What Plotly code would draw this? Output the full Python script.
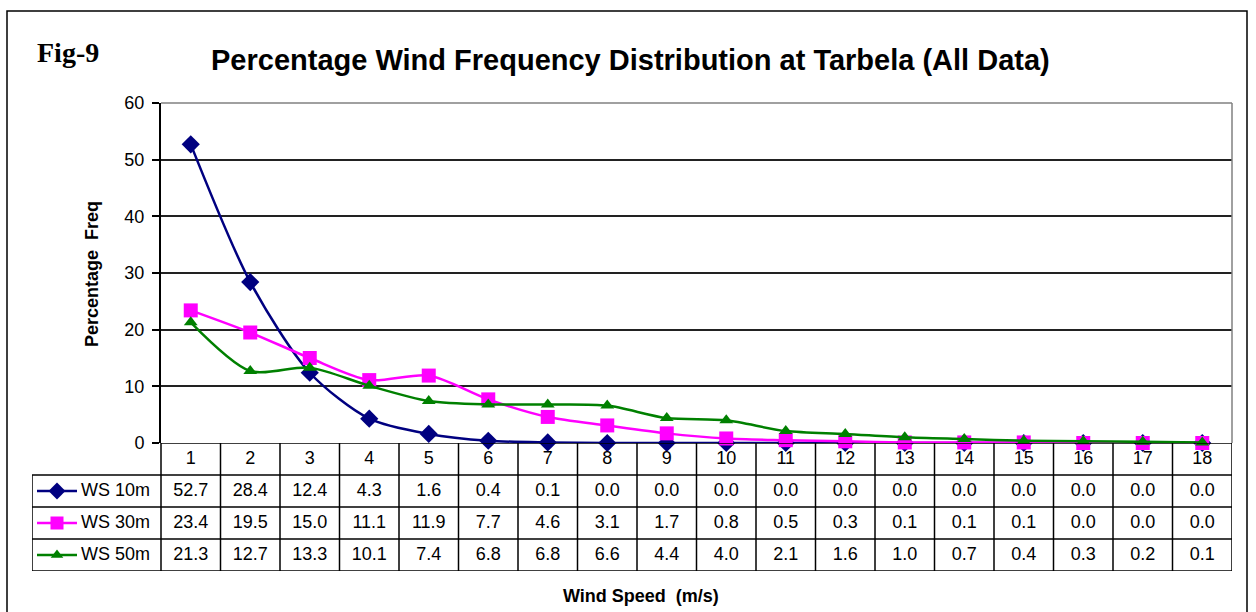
import plotly.graph_objects as go

# ---- data ----
wind_speed = list(range(1, 19))
ws10 = [52.7, 28.4, 12.4, 4.3, 1.6, 0.4, 0.1, 0.0, 0.0, 0.0, 0.0, 0.0, 0.0, 0.0, 0.0, 0.0, 0.0, 0.0]
ws30 = [23.4, 19.5, 15.0, 11.1, 11.9, 7.7, 4.6, 3.1, 1.7, 0.8, 0.5, 0.3, 0.1, 0.1, 0.1, 0.0, 0.0, 0.0]
ws50 = [21.3, 12.7, 13.3, 10.1, 7.4, 6.8, 6.8, 6.6, 4.4, 4.0, 2.1, 1.6, 1.0, 0.7, 0.4, 0.3, 0.2, 0.1]
series_names = ["WS 10m", "WS 30m", "WS 50m"]
y_ticks = [0, 10, 20, 30, 40, 50, 60]

# ---- styling ----
W, H = 1256, 612
PL, PR, PT, PB = 161, 1232, 103, 443   # plot area (px)
TB, LL = 571, 32                        # data-table bottom, legend-column left (px)
cw = (PR - PL) / len(wind_speed)
x_left = 0.5 - (PL - LL) / cw           # legend column left in table-axis units

colors = ["#000080", "#FF00FF", "#008000"]
symbols = ["diamond", "square", "triangle-up"]
msizes = [14, 14, 12]
FONT = "Arial, Liberation Sans, sans-serif"
TXT = 18

series = [ws10, ws30, ws50]

fig = go.Figure()

for name, vals, c, s, ms in zip(series_names, series, colors, symbols, msizes):
    fig.add_trace(go.Scatter(
        x=wind_speed, y=vals, name=name, mode="lines+markers",
        line=dict(color=c, width=2.5, shape="spline", smoothing=0.8),
        marker=dict(symbol=s, size=ms, color=c),
        cliponaxis=False, showlegend=False, xaxis="x", yaxis="y"))

# ---- data table below the plot ----
# header row: wind-speed categories
fig.add_trace(go.Scatter(
    x=wind_speed, y=[0.5] * len(wind_speed), mode="text",
    text=[str(v) for v in wind_speed], textposition="middle center",
    textfont=dict(size=TXT, color="black", family=FONT),
    cliponaxis=False, showlegend=False, xaxis="x2", yaxis="y2", hoverinfo="skip"))

for r, (name, vals, c, s, ms) in enumerate(zip(series_names, series, colors, symbols, msizes)):
    row_y = r + 1.5
    fig.add_trace(go.Scatter(
        x=wind_speed, y=[row_y] * len(wind_speed), mode="text",
        text=[f"{v:.1f}" for v in vals], textposition="middle center",
        textfont=dict(size=TXT, color="black", family=FONT),
        cliponaxis=False, showlegend=False, xaxis="x2", yaxis="y2", hoverinfo="skip"))
    # legend key: line with marker
    k0, k1 = x_left + 5 / cw, x_left + 45 / cw
    fig.add_trace(go.Scatter(
        x=[k0, k1], y=[row_y, row_y], mode="lines",
        line=dict(color=c, width=2.5),
        cliponaxis=False, showlegend=False, xaxis="x2", yaxis="y2", hoverinfo="skip"))
    fig.add_trace(go.Scatter(
        x=[(k0 + k1) / 2], y=[row_y], mode="markers",
        marker=dict(symbol=s, size=ms - 1, color=c),
        cliponaxis=False, showlegend=False, xaxis="x2", yaxis="y2", hoverinfo="skip"))
    fig.add_trace(go.Scatter(
        x=[x_left + 49 / cw], y=[row_y], mode="text", text=[name],
        textposition="middle right",
        textfont=dict(size=TXT, color="black", family=FONT),
        cliponaxis=False, showlegend=False, xaxis="x2", yaxis="y2", hoverinfo="skip"))

shapes = []
line_k = dict(color="black", width=1.5)
# horizontal table rules
for ry in [0, 1, 2, 3, 4]:
    x0 = 0.5 if ry == 0 else x_left
    shapes.append(dict(type="line", xref="x2", yref="y2", x0=x0, x1=18.5, y0=ry, y1=ry, line=line_k))
# vertical table rules
for i in range(len(wind_speed) + 1):
    shapes.append(dict(type="line", xref="x2", yref="y2", x0=0.5 + i, x1=0.5 + i, y0=0, y1=4, line=line_k))
shapes.append(dict(type="line", xref="x2", yref="y2", x0=x_left, x1=x_left, y0=1, y1=4, line=line_k))
# plot-area border (top and right) in grey
shapes.append(dict(type="line", xref="x domain", yref="y domain", x0=0, x1=1, y0=1, y1=1,
                   line=dict(color="#808080", width=1.5)))
shapes.append(dict(type="line", xref="x domain", yref="y domain", x0=1, x1=1, y0=0, y1=1,
                   line=dict(color="#808080", width=1.5)))
# outer chart frame
shapes.append(dict(type="rect", xref="paper", yref="paper", x0=7 / W, x1=1247 / W,
                   y0=-0.02, y1=1 - 11 / H, line=dict(color="black", width=1.5)))

annotations = [
    dict(text="<b>Percentage Wind Frequency Distribution at Tarbela (All Data)</b>",
         x=630 / W, y=1 - 60 / H, xref="paper", yref="paper", showarrow=False,
         xanchor="center", yanchor="middle", font=dict(size=29, family=FONT, color="black")),
    dict(text="<b>Fig-9</b>", x=35 / W, y=1 - 52 / H, xref="paper", yref="paper", showarrow=False,
         xanchor="left", yanchor="middle",
         font=dict(size=28, family="Liberation Serif, Times New Roman, serif", color="black")),
    dict(text="<b>Wind Speed  (m/s)</b>", x=641 / W, y=1 - 596 / H, xref="paper", yref="paper",
         showarrow=False, xanchor="center", yanchor="middle",
         font=dict(size=18, family=FONT, color="black")),
    dict(text="<b>Percentage  Freq</b>", x=92 / W, y=1 - 274 / H, xref="paper", yref="paper",
         showarrow=False, xanchor="center", yanchor="middle", textangle=-90,
         font=dict(size=18, family=FONT, color="black")),
]

fig.update_layout(
    width=W, height=H, margin=dict(l=0, r=0, t=0, b=0, autoexpand=False),
    paper_bgcolor="white", plot_bgcolor="white",
    xaxis=dict(domain=[PL / W, PR / W], range=[0.5, 18.5], showticklabels=False,
               showgrid=False, zeroline=False, showline=False, anchor="y", automargin=False),
    yaxis=dict(domain=[1 - PB / H, 1 - PT / H], range=[0, 60], tickvals=y_ticks,
               showgrid=True, gridcolor="#222222", gridwidth=1.5, zeroline=False,
               showline=True, linecolor="black", linewidth=2,
               ticks="outside", ticklen=7, tickcolor="black", tickwidth=1.5,
               ticklabelstandoff=4, automargin=False,
               tickfont=dict(size=TXT, family=FONT, color="black"), anchor="x"),
    xaxis2=dict(domain=[LL / W, PR / W], range=[x_left, 18.5], visible=False, anchor="y2",
                automargin=False),
    yaxis2=dict(domain=[1 - TB / H, 1 - PB / H], range=[4, 0], visible=False, anchor="x2",
                automargin=False),
    shapes=shapes, annotations=annotations,
)

fig.write_html("out.html")
